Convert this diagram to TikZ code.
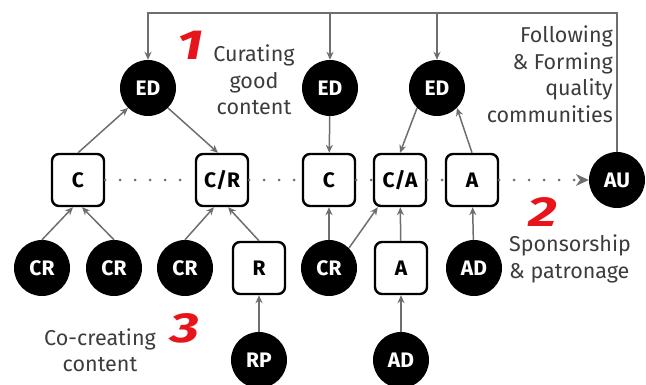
\documentclass[tikz,border=0pt]{standalone}
\usepackage{fontspec}
\setmainfont{Fira Sans}
\usetikzlibrary{arrows.meta,positioning}
\definecolor{numred}{HTML}{E8141B}
\definecolor{linegray}{HTML}{6E6E6E}
\definecolor{textgray}{HTML}{3C3C3C}

\begin{document}
\begin{tikzpicture}[x = 1pt, y = -1pt,
  dark/.style = {shape = circle, fill = black, text = white, minimum size = 56pt, inner sep = 0pt, font = \fontsize{21}{21}\selectfont\bfseries},
  box/.style = {shape = rectangle, draw = black, fill = white, line width = 2.4pt, rounded corners = 7pt, minimum size = 52pt, inner sep = 0pt, font = \fontsize{21}{21}\selectfont\bfseries},
  link/.style = {draw = linegray, line width = 1.5pt, -{Stealth[length = 8pt, width = 7pt]}},
  dots/.style = {draw = linegray, line width = 3pt, line cap = round, dash pattern = on 0pt off 15pt},
  note/.style = {text = textgray, inner sep = 0pt, font = \fontsize{21.5}{26.5}\selectfont},
  num/.style = {text = numred, inner sep = 0pt, xscale = 1.35, transform shape, font = \fontsize{42}{42}\selectfont\bfseries\itshape}]
\useasboundingbox (0,0) rectangle (646,385);
\node[dark] (1) at (148,88) {ED};
\node[dark] (2) at (330,88) {ED};
\node[dark] (3) at (437,88) {ED};
\node[box]  (4) at (78,180) {C};
\node[box]  (5) at (222,180) {C/R};
\node[box]  (6) at (329,180) {C};
\node[box]  (7) at (400,180) {C/A};
\node[box]  (8) at (472,180) {A};
\node[dark] (9) at (617,180) {AU};
\node[dark] (10) at (42,268) {CR};
\node[dark] (11) at (114,268) {CR};
\node[dark] (12) at (185,268) {CR};
\node[box]  (13) at (259,268) {R};
\node[dark] (14) at (329,268) {CR};
\node[box]  (15) at (401,268) {A};
\node[dark] (16) at (474,268) {AD};
\node[dark] (17) at (259,360) {RP};
\node[dark] (18) at (401,360) {AD};
\coordinate (top) at (0,13);

\draw[link] (9.north) -- (9.north |- top) -| (1);
\draw[link] (2 |- top) -- (2);
\draw[link] (3 |- top) -- (3);

\draw[link] (4.north) -- (1.south west);
\draw[link] (1.south east) -- ([xshift = -4pt]5.north);
\draw[link] (2) -- (6);
\draw[link] (3.south west) -- (7.north);
\draw[link] (8.north) -- (3.south east);

\draw[link] (10.north) -- ([xshift = -5pt]4.south);
\draw[link] (11.north) -- ([xshift = 4pt]4.south);
\draw[link] (12.north) -- ([xshift = -8pt]5.south);
\draw[link] (13.north) -- ([xshift = 6pt]5.south);
\draw[link] (14) -- (6);
\draw[link] (14.north east) -- ([xshift = 5pt]7.south west);
\draw[link] (15) -- (7);
\draw[link] (16) -- (8);
\draw[link] (17) -- (13);
\draw[link] (18) -- (15);

\draw[dots] (4) -- (5);
\draw[dots] (5) -- (6);
\draw[dots] (6) -- (7);
\draw[dots] (7) -- (8);
\draw[dots, -{Stealth[length = 13pt, width = 12pt, line width = 0pt]}] (8) -- (9);

\node[num] (19) at (190,45) {1};
\node[num] (20) at (543,212) {2};
\node[num] (21) at (185,328) {3};
\node[note, align = center] (22) at (254,80) {Curating\\good\\content};
\node[note, align = right, anchor = east] (23) at (613,74) {Following\\\& Forming\\quality\\communities};
\node[note, align = left, anchor = west] (24) at (509,259) {Sponsorship\\\& patronage};
\node[note, align = center] (25) at (100,350) {Co-creating\\content};
\end{tikzpicture}
\end{document}
